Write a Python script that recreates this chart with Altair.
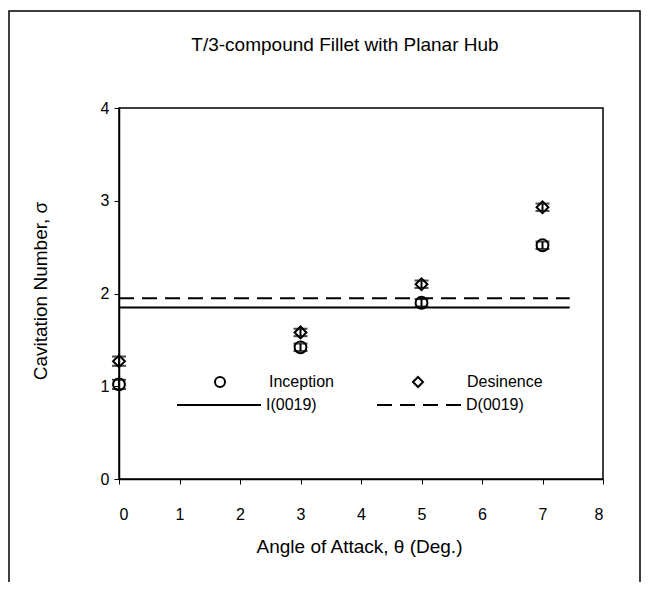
import altair as alt
import pandas as pd

FONT = "Liberation Sans"

# ---- data ----
angles = [0, 3, 5, 7]
inception = [1.02, 1.42, 1.90, 2.52]
desinence = [1.27, 1.58, 2.10, 2.93]
inception_err = [0.05, 0.04, 0.04, 0.04]
desinence_err = [0.05, 0.04, 0.04, 0.04]
series_names = ["Inception", "Desinence"]
ref_names = ["I(0019)", "D(0019)"]
ref_values = [1.85, 1.95]
ref_x_start = 0
ref_x_end = 7.45
x_ticks = [0, 1, 2, 3, 4, 5, 6, 7, 8]
y_ticks = [0, 1, 2, 3, 4]

pts = pd.DataFrame({
    "angle": angles + angles,
    "sigma": inception + desinence,
    "err": inception_err + desinence_err,
    "series": [series_names[0]] * len(angles) + [series_names[1]] * len(angles),
})
pts["lo"] = pts["sigma"] - pts["err"]
pts["hi"] = pts["sigma"] + pts["err"]

refs = pd.DataFrame({
    "angle": [ref_x_start, ref_x_end, ref_x_start, ref_x_end],
    "sigma": [ref_values[0], ref_values[0], ref_values[1], ref_values[1]],
    "ref": [ref_names[0], ref_names[0], ref_names[1], ref_names[1]],
})

W, H = 484, 371

xs = alt.Scale(domain=[0, 8], nice=False)
ys = alt.Scale(domain=[0, 4], nice=False)

x_axis = alt.Axis(values=x_ticks, format="d", title="Angle of Attack, θ (Deg.)",
                  labelPadding=22, titleY=58, titleX=W / 2 - 2)
y_axis = alt.Axis(values=y_ticks, format="d", title="Cavitation Number, σ",
                  labelPadding=5, titleX=-69, titleY=H / 2 - 3)

frame = alt.Chart(pd.DataFrame({"f": [0]})).mark_rect(
    filled=False, stroke="black", strokeWidth=1.5
).encode(
    x=alt.value(-110), x2=alt.value(521), y=alt.value(-97), y2=alt.value(520)
)

lines = alt.Chart(refs).mark_line(color="black", strokeWidth=2).encode(
    x=alt.X("angle:Q", scale=xs, axis=x_axis),
    y=alt.Y("sigma:Q", scale=ys, axis=y_axis),
    strokeDash=alt.StrokeDash(
        "ref:N",
        scale=alt.Scale(domain=ref_names, range=[[1, 0], [15, 8]]),
        legend=alt.Legend(
            title=None, orient="none", legendX=57, legendY=254,
            direction="horizontal", symbolType="stroke", symbolSize=7056,
            symbolStrokeWidth=2, symbolStrokeColor="black",
            labelOffset=4, columnPadding=56, padding=0,
            labelFont=FONT, labelFontSize=16, labelColor="black",
        ),
    ),
)

bars = alt.Chart(pts).mark_rule(color="black", strokeWidth=2).encode(
    x="angle:Q", y="lo:Q", y2="hi:Q"
)
caps_lo = alt.Chart(pts).mark_tick(color="black", orient="horizontal",
                                   size=14, thickness=2).encode(
    x="angle:Q", y="lo:Q"
)
caps_hi = alt.Chart(pts).mark_tick(color="black", orient="horizontal",
                                   size=14, thickness=2).encode(
    x="angle:Q", y="hi:Q"
)

points = alt.Chart(pts).mark_point(
    filled=False, color="black", strokeWidth=2, size=140, opacity=1
).encode(
    x="angle:Q",
    y="sigma:Q",
    shape=alt.Shape(
        "series:N",
        scale=alt.Scale(domain=series_names, range=["circle", "diamond"]),
        legend=alt.Legend(
            title=None, orient="none", legendX=93, legendY=266,
            direction="horizontal", symbolSize=100, symbolStrokeWidth=2,
            symbolStrokeColor="black", symbolFillColor="transparent",
            labelOffset=41, columnPadding=75, padding=0,
            labelFont=FONT, labelFontSize=16, labelColor="black",
        ),
    ),
)

chart = alt.layer(frame, lines, bars, caps_lo, caps_hi, points).properties(
    width=W,
    height=H,
    background="white",
    autosize=alt.AutoSizeParams(type="none"),
    padding={"left": 111, "top": 100, "right": 40, "bottom": 103},
    title=alt.TitleParams(
        text="T/3-compound Fillet with Planar Hub",
        font=FONT, fontSize=19, fontWeight="normal", color="black",
        anchor="middle", frame="group", offset=-45, dx=-16,
    ),
).configure_view(
    stroke="black", strokeWidth=1.5
).configure_axis(
    domainColor="black", domainWidth=1.5, tickColor="black", tickWidth=1,
    tickSize=5, grid=False,
    labelFont=FONT, labelFontSize=16, labelColor="black",
    titleFont=FONT, titleFontSize=19, titleFontWeight="normal", titleColor="black",
)

chart.save("out.html", embed_options={"renderer": "svg", "actions": False})
